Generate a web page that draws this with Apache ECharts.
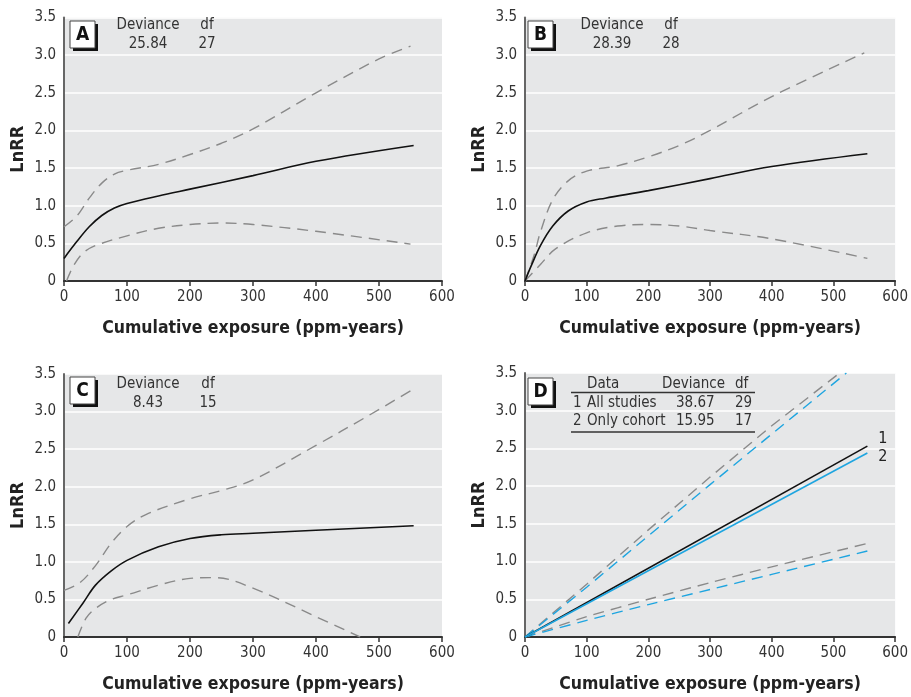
<!DOCTYPE html>
<html>
<head>
<meta charset="utf-8">
<script src="https://cdn.jsdelivr.net/npm/echarts@6/dist/echarts.min.js"></script>
<style>
  html, body { margin: 0; padding: 0; background: #fff; }
  #chart { width: 911px; height: 697px; }
</style>
</head>
<body>
<div id="chart"></div>
<script>
// fitted curves and 95% bands, [exposure, LnRR]
const aFit = [[0,0.3],[20,0.52],[40,0.72],[60,0.87],[80,0.97],[100,1.03],[150,1.13],[200,1.22],[300,1.4],[400,1.59],[555,1.8]];
const aUpper = [[0,0.72],[20,0.86],[40,1.1],[60,1.3],[80,1.42],[100,1.47],[150,1.55],[200,1.68],[250,1.83],[300,2.02],[400,2.5],[500,2.95],[550,3.12]];
const aLower = [[4,0],[15,0.2],[30,0.37],[50,0.47],[100,0.6],[150,0.7],[200,0.75],[250,0.77],[300,0.75],[400,0.66],[550,0.49]];

const bFit = [[0,0],[10,0.2],[25,0.47],[45,0.73],[70,0.93],[100,1.05],[130,1.1],[200,1.2],[300,1.36],[400,1.52],[555,1.69]];
const bUpper = [[0,0],[15,0.35],[25,0.65],[45,1.08],[70,1.33],[100,1.46],[150,1.53],[200,1.65],[250,1.8],[300,2.0],[400,2.45],[550,3.03]];
const bLower = [[0,0],[25,0.22],[50,0.43],[100,0.64],[150,0.73],[200,0.75],[250,0.73],[300,0.67],[400,0.56],[555,0.3]];

const cFit = [[7,0.18],[30,0.45],[50,0.69],[75,0.88],[100,1.02],[150,1.2],[200,1.31],[250,1.36],[300,1.38],[400,1.42],[555,1.48]];
const cUpper = [[0,0.62],[25,0.72],[50,0.95],[75,1.25],[100,1.47],[130,1.63],[200,1.84],[250,1.95],[300,2.09],[400,2.55],[480,2.93],[555,3.3]];
const cLower = [[22,0],[35,0.25],[50,0.38],[75,0.5],[100,0.56],[150,0.69],[200,0.78],[240,0.79],[300,0.65],[400,0.27],[470,0]];

const dFit1 = [[0,0],[555,2.53]];
const dFit2 = [[0,0],[555,2.44]];
const dUpper1 = [[0,0],[100,0.7],[200,1.42],[300,2.12],[400,2.8],[510,3.5]];
const dUpper2 = [[0,0],[100,0.66],[200,1.34],[300,2.02],[400,2.69],[521,3.5]];
const dLower1 = [[0,0],[100,0.27],[200,0.5],[300,0.72],[400,0.93],[555,1.24]];
const dLower2 = [[0,0],[100,0.22],[200,0.43],[300,0.63],[400,0.83],[555,1.14]];

const letters = ['A', 'B', 'C', 'D'];
const deviance = ['25.84', '28.39', '8.43'];
const dfs = ['27', '28', '15'];
const dTableHead = ['Data', 'Deviance', 'df'];
const dTableRows = [['1', 'All studies', '38.67', '29'], ['2', 'Only cohort', '15.95', '17']];

const FONT = "'Liberation Sans Narrow','DejaVu Sans Condensed','Arial Narrow',sans-serif";
const GRAY = '#8a8a8a';
const BLUE = '#1ea5e0';

const grids = [
  { left: 64, top: 17.5, width: 378, height: 263.5 },
  { left: 525, top: 17.5, width: 378, height: 263.5 },
  { left: 64, top: 374, width: 378, height: 263 },
  { left: 525, top: 373, width: 378, height: 264 }
];

const chart = echarts.init(document.getElementById('chart'));

const xAxes = grids.map((g, i) => ({
  gridIndex: i,
  type: 'value',
  min: 0, max: 600, interval: 100,
  name: 'Cumulative exposure (ppm-years)',
  nameLocation: 'middle',
  nameGap: 38,
  nameTextStyle: { fontFamily: FONT, fontWeight: 'bold', fontSize: 17.5, color: '#222' },
  axisLine: { show: true, onZero: false, lineStyle: { color: '#333', width: 2 } },
  axisTick: { show: true, length: 5, lineStyle: { color: '#333', width: 1.5 } },
  axisLabel: { fontFamily: FONT, fontSize: 15, color: '#333', margin: 9 },
  splitLine: { show: false }
}));

const yAxes = grids.map((g, i) => ({
  gridIndex: i,
  type: 'value',
  min: 0, max: 3.5, interval: 0.5,
  name: 'LnRR',
  nameLocation: 'middle',
  nameRotate: 90,
  nameGap: 37,
  nameTextStyle: { fontFamily: FONT, fontWeight: 'bold', fontSize: 18, color: '#222' },
  axisLine: { show: true, lineStyle: { color: '#666', width: 2 } },
  axisTick: { show: false },
  axisLabel: {
    fontFamily: FONT, fontSize: 15, color: '#333', margin: 8,
    formatter: v => v === 0 ? '0' : v.toFixed(1)
  },
  splitLine: { show: true, lineStyle: { color: '#fff', width: 1.5 } }
}));

function fit(data, i, color, smooth) {
  return {
    type: 'line', xAxisIndex: i, yAxisIndex: i, data: data,
    smooth: smooth, showSymbol: false, symbol: 'none', silent: true,
    lineStyle: { color: color, width: 1.6 }
  };
}
function band(data, i, color, smooth) {
  return {
    type: 'line', xAxisIndex: i, yAxisIndex: i, data: data,
    smooth: smooth, showSymbol: false, symbol: 'none', silent: true,
    lineStyle: { color: color, width: 1.4, type: [11, 7] }
  };
}

const series = [
  band(aUpper, 0, GRAY, 0.35), band(aLower, 0, GRAY, 0.35), fit(aFit, 0, '#111', 0.35),
  band(bUpper, 1, GRAY, 0.35), band(bLower, 1, GRAY, 0.35), fit(bFit, 1, '#111', 0.35),
  band(cUpper, 2, GRAY, 0.35), band(cLower, 2, GRAY, 0.35), fit(cFit, 2, '#111', 0.35),
  band(dUpper1, 3, GRAY, false), band(dLower1, 3, GRAY, 0.2),
  band(dUpper2, 3, BLUE, false), band(dLower2, 3, BLUE, 0.2),
  Object.assign(fit(dFit1, 3, '#111', false), {
    endLabel: { show: true, formatter: '1', fontFamily: FONT, fontSize: 16, color: '#222', offset: [3, -7] }
  }),
  Object.assign(fit(dFit2, 3, BLUE, false), {
    endLabel: { show: true, formatter: '2', fontFamily: FONT, fontSize: 16, color: '#222', offset: [3, 4] }
  })
];

// panel letter box with drop shadow
function letterBox(x, y, letter) {
  return [
    { type: 'rect', shape: { x: x + 3, y: y + 3, width: 25, height: 27 }, style: { fill: '#111' }, z: 100 },
    { type: 'rect', shape: { x: x, y: y, width: 25, height: 27 }, style: { fill: '#fff', stroke: '#444', lineWidth: 1 }, z: 101 },
    { type: 'text', style: { text: letter, x: x + 12.5, y: y + 14, align: 'center', verticalAlign: 'middle',
      font: 'bold 19px ' + FONT, fill: '#111' }, z: 102 }
  ];
}
function txt(s, x, y, align) {
  return { type: 'text', z: 102, style: { text: s, x: x, y: y, align: align || 'center', verticalAlign: 'middle',
    font: '15px ' + FONT, fill: '#333' } };
}

const boxPos = [[70, 21], [528, 21], [70, 377], [528, 378]];
const statPos = [[148, 207, 25, 44], [612, 671, 25, 44], [148, 208, 384, 403]];

let graphic = [];
boxPos.forEach((p, i) => { graphic = graphic.concat(letterBox(p[0], p[1], letters[i])); });
statPos.forEach((p, i) => {
  graphic.push(txt('Deviance', p[0], p[2]), txt('df', p[1], p[2]));
  graphic.push(txt(deviance[i], p[0], p[3]), txt(dfs[i], p[1], p[3]));
});

// table in panel D
const colX = [573, 587, 676, 735];
graphic.push(txt(dTableHead[0], 587, 384, 'left'), txt(dTableHead[1], 662, 384, 'left'), txt(dTableHead[2], 735, 384, 'left'));
dTableRows.forEach((row, r) => {
  row.forEach((s, c) => graphic.push(txt(s, colX[c], 403 + r * 18.5, 'left')));
});
graphic.push(
  { type: 'line', z: 102, shape: { x1: 571, y1: 392.5, x2: 755, y2: 392.5 }, style: { stroke: '#333', lineWidth: 1.4 } },
  { type: 'line', z: 102, shape: { x1: 571, y1: 432, x2: 755, y2: 432 }, style: { stroke: '#333', lineWidth: 1.4 } }
);

chart.setOption({
  animation: false,
  backgroundColor: '#fff',
  grid: grids.map(g => Object.assign({ show: true, backgroundColor: '#e6e7e8', borderWidth: 0 }, g)),
  xAxis: xAxes,
  yAxis: yAxes,
  series: series,
  graphic: graphic
});
</script>
</body>
</html>
